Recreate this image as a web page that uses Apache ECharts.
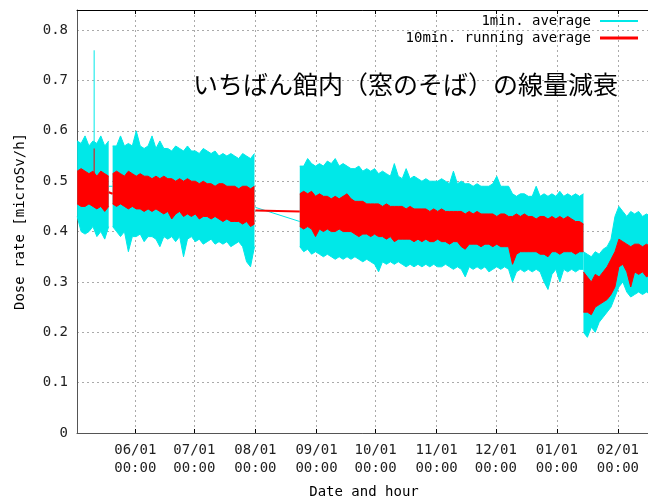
<!DOCTYPE html>
<html>
<head>
<meta charset="utf-8">
<script src="https://cdn.jsdelivr.net/npm/echarts@6/dist/echarts.min.js"></script>
<style>
  html, body { margin: 0; padding: 0; background: #fff; }
  #chart { width: 648px; height: 499px; }
</style>
</head>
<body>
<div id="chart"></div>
<script>
const DAY = 864e5;
const stepDays = 2;

const monthTicks = ['2011-06-01', '2011-07-01', '2011-08-01', '2011-09-01', '2011-10-01',
  '2011-11-01', '2011-12-01', '2012-01-01', '2012-02-01'];

// envelopes of the two traces, one sample every 2 days
// segment A: early May
const segAStart = '2011-05-02T12:00:00Z';
const segACyanHi = [0.58, 0.575, 0.59, 0.57, 0.58, 0.575, 0.59, 0.57, 0.58];
const segACyanLo = [0.43, 0.40, 0.395, 0.40, 0.41, 0.39, 0.40, 0.385, 0.41];
const segARedHi = [0.52, 0.525, 0.52, 0.515, 0.52, 0.51, 0.52, 0.515, 0.51];
const segARedLo = [0.455, 0.45, 0.45, 0.455, 0.45, 0.445, 0.45, 0.44, 0.45];

// segment B: late May - end of July
const segBStart = '2011-05-20T12:00:00Z';
const segBCyanHi = [0.57, 0.57, 0.59, 0.57, 0.575, 0.57, 0.60, 0.57, 0.565, 0.57,
  0.59, 0.565, 0.58, 0.565, 0.565, 0.56, 0.57, 0.565, 0.56, 0.57,
  0.56, 0.56, 0.555, 0.565, 0.56, 0.555, 0.56, 0.55, 0.555, 0.55,
  0.555, 0.55, 0.545, 0.555, 0.55, 0.545, 0.555];
const segBCyanLo = [0.41, 0.40, 0.39, 0.40, 0.36, 0.39, 0.39, 0.395, 0.38, 0.39,
  0.39, 0.385, 0.37, 0.39, 0.385, 0.39, 0.38, 0.39, 0.35, 0.385,
  0.39, 0.38, 0.385, 0.375, 0.38, 0.385, 0.375, 0.38, 0.375, 0.38,
  0.37, 0.375, 0.38, 0.37, 0.34, 0.33, 0.37];
const segBRedHi = [0.515, 0.52, 0.515, 0.51, 0.52, 0.515, 0.51, 0.515, 0.51, 0.51,
  0.505, 0.51, 0.505, 0.51, 0.505, 0.505, 0.50, 0.505, 0.50, 0.505,
  0.50, 0.50, 0.495, 0.50, 0.495, 0.495, 0.49, 0.495, 0.495, 0.49,
  0.49, 0.49, 0.485, 0.49, 0.49, 0.485, 0.49];
const segBRedLo = [0.455, 0.45, 0.455, 0.45, 0.445, 0.45, 0.445, 0.445, 0.44, 0.445,
  0.44, 0.445, 0.44, 0.435, 0.44, 0.425, 0.435, 0.44, 0.43, 0.435,
  0.43, 0.435, 0.425, 0.43, 0.43, 0.425, 0.43, 0.425, 0.42, 0.425,
  0.42, 0.42, 0.42, 0.415, 0.42, 0.41, 0.415];

// segment C: late August - mid January
const segCStart = '2011-08-23T12:00:00Z';
const segCCyanHi = [0.53, 0.53, 0.545, 0.535, 0.53, 0.535, 0.53, 0.54, 0.535, 0.545,
  0.53, 0.535, 0.53, 0.525, 0.525, 0.53, 0.52, 0.525, 0.52, 0.525,
  0.515, 0.52, 0.515, 0.51, 0.535, 0.51, 0.505, 0.525, 0.505, 0.51,
  0.505, 0.50, 0.505, 0.50, 0.50, 0.50, 0.505, 0.50, 0.495, 0.52,
  0.495, 0.50, 0.495, 0.495, 0.49, 0.495, 0.49, 0.49, 0.49, 0.495,
  0.51, 0.49, 0.49, 0.49, 0.475, 0.47, 0.475, 0.475, 0.47, 0.47,
  0.49, 0.47, 0.475, 0.47, 0.475, 0.47, 0.48, 0.47, 0.475, 0.47,
  0.475, 0.47, 0.475];
const segCCyanLo = [0.37, 0.36, 0.365, 0.355, 0.36, 0.355, 0.35, 0.355, 0.35, 0.345,
  0.35, 0.345, 0.35, 0.345, 0.35, 0.345, 0.34, 0.345, 0.34, 0.335,
  0.32, 0.34, 0.335, 0.34, 0.335, 0.34, 0.335, 0.33, 0.335, 0.33,
  0.335, 0.33, 0.335, 0.33, 0.335, 0.33, 0.33, 0.335, 0.33, 0.325,
  0.33, 0.325, 0.31, 0.33, 0.325, 0.33, 0.325, 0.33, 0.32, 0.325,
  0.33, 0.325, 0.33, 0.325, 0.30, 0.32, 0.325, 0.32, 0.325, 0.32,
  0.325, 0.32, 0.30, 0.285, 0.315, 0.325, 0.30, 0.325, 0.32, 0.325,
  0.32, 0.325, 0.325];
const segCRedHi = [0.475, 0.48, 0.475, 0.48, 0.47, 0.475, 0.47, 0.47, 0.465, 0.47,
  0.465, 0.47, 0.475, 0.465, 0.46, 0.46, 0.46, 0.455, 0.455, 0.455,
  0.455, 0.45, 0.455, 0.45, 0.45, 0.45, 0.45, 0.445, 0.45, 0.445,
  0.445, 0.445, 0.445, 0.44, 0.445, 0.44, 0.445, 0.44, 0.44, 0.44,
  0.44, 0.44, 0.435, 0.44, 0.435, 0.44, 0.435, 0.435, 0.435, 0.435,
  0.43, 0.435, 0.435, 0.43, 0.43, 0.435, 0.43, 0.435, 0.43, 0.43,
  0.425, 0.43, 0.43, 0.425, 0.43, 0.425, 0.43, 0.425, 0.43, 0.425,
  0.42, 0.42, 0.415];
const segCRedLo = [0.41, 0.405, 0.41, 0.405, 0.39, 0.405, 0.40, 0.405, 0.40, 0.40,
  0.405, 0.40, 0.40, 0.40, 0.395, 0.39, 0.395, 0.395, 0.39, 0.395,
  0.39, 0.39, 0.385, 0.39, 0.38, 0.385, 0.385, 0.385, 0.385, 0.38,
  0.385, 0.38, 0.385, 0.38, 0.38, 0.385, 0.38, 0.38, 0.375, 0.38,
  0.38, 0.37, 0.365, 0.375, 0.375, 0.375, 0.37, 0.375, 0.375, 0.37,
  0.375, 0.37, 0.37, 0.37, 0.335, 0.355, 0.36, 0.36, 0.36, 0.36,
  0.36, 0.355, 0.355, 0.35, 0.36, 0.36, 0.355, 0.36, 0.36, 0.36,
  0.355, 0.36, 0.36];

// segment D: the drop in mid January and the recovery
const segDStart = '2012-01-14T12:00:00Z';
const segDCyanHi = [0.36, 0.355, 0.35, 0.36, 0.355, 0.365, 0.37, 0.385, 0.43, 0.45,
  0.44, 0.43, 0.44, 0.435, 0.44, 0.43, 0.435, 0.43, 0.43];
const segDCyanLo = [0.20, 0.19, 0.21, 0.20, 0.22, 0.23, 0.24, 0.25, 0.27, 0.29,
  0.30, 0.28, 0.27, 0.275, 0.28, 0.275, 0.28, 0.275, 0.28];
const segDRedHi = [0.32, 0.31, 0.30, 0.315, 0.31, 0.32, 0.33, 0.345, 0.36, 0.385,
  0.38, 0.375, 0.37, 0.375, 0.375, 0.37, 0.375, 0.37, 0.37];
const segDRedLo = [0.24, 0.24, 0.235, 0.25, 0.255, 0.26, 0.265, 0.275, 0.29, 0.33,
  0.335, 0.32, 0.29, 0.32, 0.315, 0.32, 0.31, 0.315, 0.32];

// straight connections drawn across the missing periods
const gapCyan = [['2011-05-18T12:00:00Z', 0.49], ['2011-05-20T12:00:00Z', 0.49], null,
  ['2011-08-01T00:00:00Z', 0.448], ['2011-08-23T12:00:00Z', 0.42]];
const gapRed = [['2011-05-18T12:00:00Z', 0.478], ['2011-05-20T12:00:00Z', 0.475], null,
  ['2011-08-01T00:00:00Z', 0.442], ['2011-08-23T12:00:00Z', 0.44]];

// single isolated spikes [time, from, to]
const spikeCyan = [['2011-05-11T03:00:00Z', 0.55, 0.76]];
const spikeRed = [['2011-05-11T03:00:00Z', 0.50, 0.565]];

const CYAN = '#00e8e8';
const RED = '#ff0000';
const MONO = 'DejaVu Sans Mono';

function bandSeries(start, lo, hi, name, color, stackId, z) {
  const t0 = Date.parse(start);
  const loData = lo.map((v, i) => [t0 + i * stepDays * DAY, v]);
  const diffData = hi.map((v, i) => [t0 + i * stepDays * DAY, +(v - lo[i]).toFixed(4)]);
  const common = {
    type: 'line', name, stack: stackId, symbol: 'none', silent: true, z,
    itemStyle: { color }, lineStyle: { width: 1, color }
  };
  return [
    Object.assign({ data: loData }, common),
    Object.assign({ data: diffData, areaStyle: { color, opacity: 1 } }, common)
  ];
}

function lineData(arr) {
  return arr.map(p => p ? [Date.parse(p[0]), p[1]] : ['-', '-']);
}

function spikeSeries(arr, name, color, z) {
  return {
    type: 'custom', name, z, silent: true,
    data: arr.map(p => [Date.parse(p[0]), p[1], p[2]]),
    encode: { x: 0, y: [1, 2] },
    renderItem: (params, api) => {
      const a = api.coord([api.value(0), api.value(1)]);
      const b = api.coord([api.value(0), api.value(2)]);
      return { type: 'line', shape: { x1: a[0], y1: a[1], x2: b[0], y2: b[1] }, style: { stroke: color, lineWidth: 1 } };
    }
  };
}

const cyanName = '1min. average';
const redName = '10min. running average';

const series = [].concat(
  bandSeries(segAStart, segACyanLo, segACyanHi, cyanName, CYAN, 'cA', 2),
  bandSeries(segBStart, segBCyanLo, segBCyanHi, cyanName, CYAN, 'cB', 2),
  bandSeries(segCStart, segCCyanLo, segCCyanHi, cyanName, CYAN, 'cC', 2),
  bandSeries(segDStart, segDCyanLo, segDCyanHi, cyanName, CYAN, 'cD', 2),
  [{ type: 'line', name: cyanName, data: lineData(gapCyan), symbol: 'none', silent: true, z: 2,
     itemStyle: { color: CYAN }, lineStyle: { width: 1, color: CYAN } },
   spikeSeries(spikeCyan, cyanName, CYAN, 2)],
  bandSeries(segAStart, segARedLo, segARedHi, redName, RED, 'rA', 3),
  bandSeries(segBStart, segBRedLo, segBRedHi, redName, RED, 'rB', 3),
  bandSeries(segCStart, segCRedLo, segCRedHi, redName, RED, 'rC', 3),
  bandSeries(segDStart, segDRedLo, segDRedHi, redName, RED, 'rD', 3),
  [{ type: 'line', name: redName, data: lineData(gapRed), symbol: 'none', silent: true, z: 3,
     itemStyle: { color: RED }, lineStyle: { width: 2, color: RED } },
   spikeSeries(spikeRed, redName, RED, 3)]
);

const tickValues = monthTicks.map(d => Date.parse(d + 'T00:00:00Z'));
const pad = n => (n < 10 ? '0' : '') + n;
const xMin = Date.UTC(2011, 4, 2, 10);
const xMax = Date.UTC(2012, 1, 17, 19);

const chart = echarts.init(document.getElementById('chart'));
chart.setOption({
  animation: false,
  useUTC: true,
  title: {
    text: 'いちばん館内（窓のそば）の線量減衰',
    left: 193, top: 72, padding: 0,
    textStyle: { fontFamily: 'Noto Sans CJK JP', fontSize: 25, fontWeight: 'normal', color: '#000' }
  },
  legend: [
    {
      data: [{ name: cyanName, icon: 'rect', itemStyle: { color: CYAN } }],
      right: 10, top: 14, padding: 0, align: 'right', selectedMode: false,
      itemWidth: 38, itemHeight: 2,
      textStyle: { fontFamily: MONO, fontSize: 14, color: '#000', padding: [0, 4, 0, 0] }
    },
    {
      data: [{ name: redName, icon: 'rect', itemStyle: { color: RED } }],
      right: 10, top: 31, padding: 0, align: 'right', selectedMode: false,
      itemWidth: 38, itemHeight: 3,
      textStyle: { fontFamily: MONO, fontSize: 14, color: '#000', padding: [0, 4, 0, 0] }
    }
  ],
  grid: { left: 77, right: -3, top: 10, bottom: 66, outerBoundsMode: 'none' },
  xAxis: [
    {
      // time axis carrying the series (time dims are never the stacked dimension)
      type: 'time', min: xMin, max: xMax,
      axisLine: { lineStyle: { color: '#555', width: 1 } },
      axisTick: { show: false },
      axisLabel: { show: false },
      splitLine: { show: false }
    },
    {
      // month ticks, labels and grid lines
      type: 'value', min: xMin, max: xMax, position: 'bottom',
      name: 'Date and hour', nameLocation: 'middle', nameGap: 52,
      nameTextStyle: { fontFamily: MONO, fontSize: 14, color: '#000' },
      axisLine: { show: false },
      axisTick: { customValues: tickValues, inside: true, length: 4, lineStyle: { color: '#000' } },
      axisLabel: {
        customValues: tickValues, margin: 8, fontFamily: MONO, fontSize: 14, lineHeight: 18, color: '#222',
        formatter: v => { const d = new Date(v); return pad(d.getUTCMonth() + 1) + '/' + pad(d.getUTCDate()) + '\n00:00'; }
      },
      splitLine: { show: true, lineStyle: { color: '#aaa', type: [2, 3] } }
    },
    {
      type: 'value', min: xMin, max: xMax, position: 'top',
      axisLine: { lineStyle: { color: '#000', width: 1 } },
      axisTick: { customValues: tickValues, inside: true, length: 4, lineStyle: { color: '#000' } },
      axisLabel: { show: false },
      splitLine: { show: false }
    }
  ],
  yAxis: {
    type: 'value', min: 0, max: 0.84, interval: 0.1,
    name: 'Dose rate [microSv/h]', nameLocation: 'middle', nameGap: 50, nameRotate: 90,
    nameTextStyle: { fontFamily: MONO, fontSize: 14, color: '#000' },
    axisLine: { show: true, lineStyle: { color: '#555', width: 1 } },
    axisTick: { show: false },
    axisLabel: {
      margin: 9, fontFamily: MONO, fontSize: 14, color: '#222', showMaxLabel: false,
      formatter: v => (v > 0.805 ? '' : (Math.round(v * 10) / 10).toString())
    },
    splitLine: { show: true, lineStyle: { color: '#aaa', type: [2, 3] } }
  },
  series
});
</script>
</body>
</html>
